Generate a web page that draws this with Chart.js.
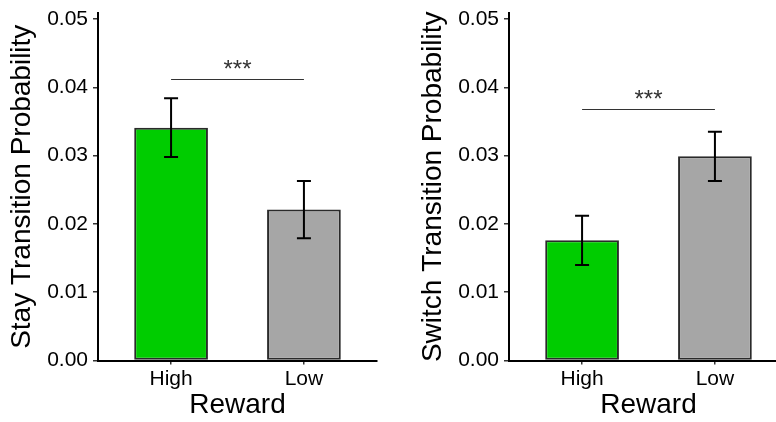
<!DOCTYPE html>
<html>
<head>
<meta charset="utf-8">
<script src="https://cdn.jsdelivr.net/npm/chart.js@4/dist/chart.umd.min.js"></script>
<style>
  html, body { margin: 0; padding: 0; background: #fff; }
  #wrap { position: relative; width: 776px; height: 422px; overflow: hidden; }
  .panel { position: absolute; top: 0; width: 388px; height: 422px; }
  #panel-stay { left: 0; }
  #panel-switch { left: 411px; }
</style>
</head>
<body>
<div id="wrap">
  <div class="panel" id="panel-stay"><canvas id="stay-chart" width="388" height="422"></canvas></div>
  <div class="panel" id="panel-switch"><canvas id="switch-chart" width="388" height="422"></canvas></div>
</div>
<script>
// ── Data ──

const REWARD_LEVELS = ["High", "Low"];
const BAR_COLORS = ["#00CC00", "#A6A6A6"];

const STAY_MEANS = [0.0341, 0.0221];
const STAY_ERR = [0.0043, 0.0042];
const STAY_SIG_Y = 0.0413;

const SWITCH_MEANS = [0.0176, 0.0299];
const SWITCH_ERR = [0.0036, 0.0036];
const SWITCH_SIG_Y = 0.0368;

const SIG_LABEL = "***";
const Y_TICKS = [0, 0.01, 0.02, 0.03, 0.04, 0.05];
const Y_MAX = 0.0509;

const FONT_FAMILY = "'Liberation Sans', Arial, Helvetica, sans-serif";

// ── Error bars + significance bracket ──

const errorBarPlugin = {
    id: "errorBars",
    afterDatasetsDraw(chart, args, opts) {
        const { ctx, scales: { x, y } } = chart;
        ctx.save();

        ctx.strokeStyle = "#000";
        ctx.lineWidth = 2;
        opts.means.forEach((m, i) => {
            const px = x.getPixelForValue(i + 1);
            const top = y.getPixelForValue(m + opts.errors[i]);
            const bot = y.getPixelForValue(m - opts.errors[i]);
            ctx.beginPath();
            ctx.moveTo(px, top); ctx.lineTo(px, bot);
            ctx.moveTo(px - 7, top); ctx.lineTo(px + 7, top);
            ctx.moveTo(px - 7, bot); ctx.lineTo(px + 7, bot);
            ctx.stroke();
        });

        // bracket between the two bars
        const x1 = x.getPixelForValue(1);
        const x2 = x.getPixelForValue(2);
        const sy = Math.round(y.getPixelForValue(opts.sigY)) + 0.5;
        ctx.strokeStyle = "#333";
        ctx.lineWidth = 1.2;
        ctx.beginPath();
        ctx.moveTo(x1, sy); ctx.lineTo(x2, sy);
        ctx.stroke();

        ctx.fillStyle = "#333";
        ctx.font = "24px " + FONT_FAMILY;
        ctx.textAlign = "center";
        ctx.textBaseline = "alphabetic";
        ctx.fillText(SIG_LABEL, (x1 + x2) / 2, sy - 3);

        ctx.restore();
    }
};

// ── Chart builder ──

function makePanel(canvasId, yTitle, means, errors, sigY) {
    const tickFont = { family: FONT_FAMILY, size: 21 };
    const titleFont = { family: FONT_FAMILY, size: 28 };

    return new Chart(document.getElementById(canvasId), {
        type: "bar",
        data: {
            datasets: [{
                data: means.map((v, i) => ({ x: i + 1, y: v })),
                backgroundColor: BAR_COLORS,
                borderColor: "#2a2a2a",
                borderWidth: 2,
                borderSkipped: false,
                barPercentage: 0.555,
                categoryPercentage: 1,
            }],
        },
        options: {
            responsive: false,
            animation: false,
            layout: { padding: { top: 13, right: 11, left: 0, bottom: 0 } },
            plugins: {
                legend: { display: false },
                tooltip: { enabled: false },
                errorBars: { means: means, errors: errors, sigY: sigY },
            },
            scales: {
                x: {
                    type: "linear",
                    offset: false,
                    min: 0.45,
                    max: 2.55,
                    afterBuildTicks: s => { s.ticks = REWARD_LEVELS.map((_, i) => ({ value: i + 1 })); },
                    afterFit: s => { s.height = 61.5; s.paddingLeft = 0; s.paddingRight = 0; },
                    ticks: {
                        callback: v => REWARD_LEVELS[Math.round(v) - 1],
                        font: tickFont,
                        color: "#000",
                        padding: 2,
                        maxRotation: 0,
                    },
                    grid: { offset: false, drawOnChartArea: false, drawTicks: true, tickLength: 4, color: "#333", lineWidth: 1.5 },
                    border: { display: true, color: "#000", width: 2 },
                    title: { display: true, text: "Reward", font: titleFont, color: "#000", padding: 0 },
                },
                y: {
                    min: 0,
                    max: Y_MAX,
                    afterBuildTicks: s => { s.ticks = Y_TICKS.map(v => ({ value: v })); },
                    afterFit: s => { s.width = 98; s.paddingTop = 0; s.paddingBottom = 0; },
                    ticks: {
                        callback: v => v.toFixed(2),
                        font: tickFont,
                        color: "#000",
                        padding: 5,
                    },
                    grid: { drawOnChartArea: false, drawTicks: true, tickLength: 5, color: "#333", lineWidth: 1.5 },
                    border: { display: true, color: "#000", width: 2 },
                    title: { display: true, text: yTitle, font: titleFont, color: "#000", padding: { top: 5, bottom: 0 } },
                },
            },
        },
        plugins: [errorBarPlugin],
    });
}

makePanel("stay-chart", "Stay Transition Probability", STAY_MEANS, STAY_ERR, STAY_SIG_Y);
makePanel("switch-chart", "Switch Transition Probability", SWITCH_MEANS, SWITCH_ERR, SWITCH_SIG_Y);
</script>
</body>
</html>
